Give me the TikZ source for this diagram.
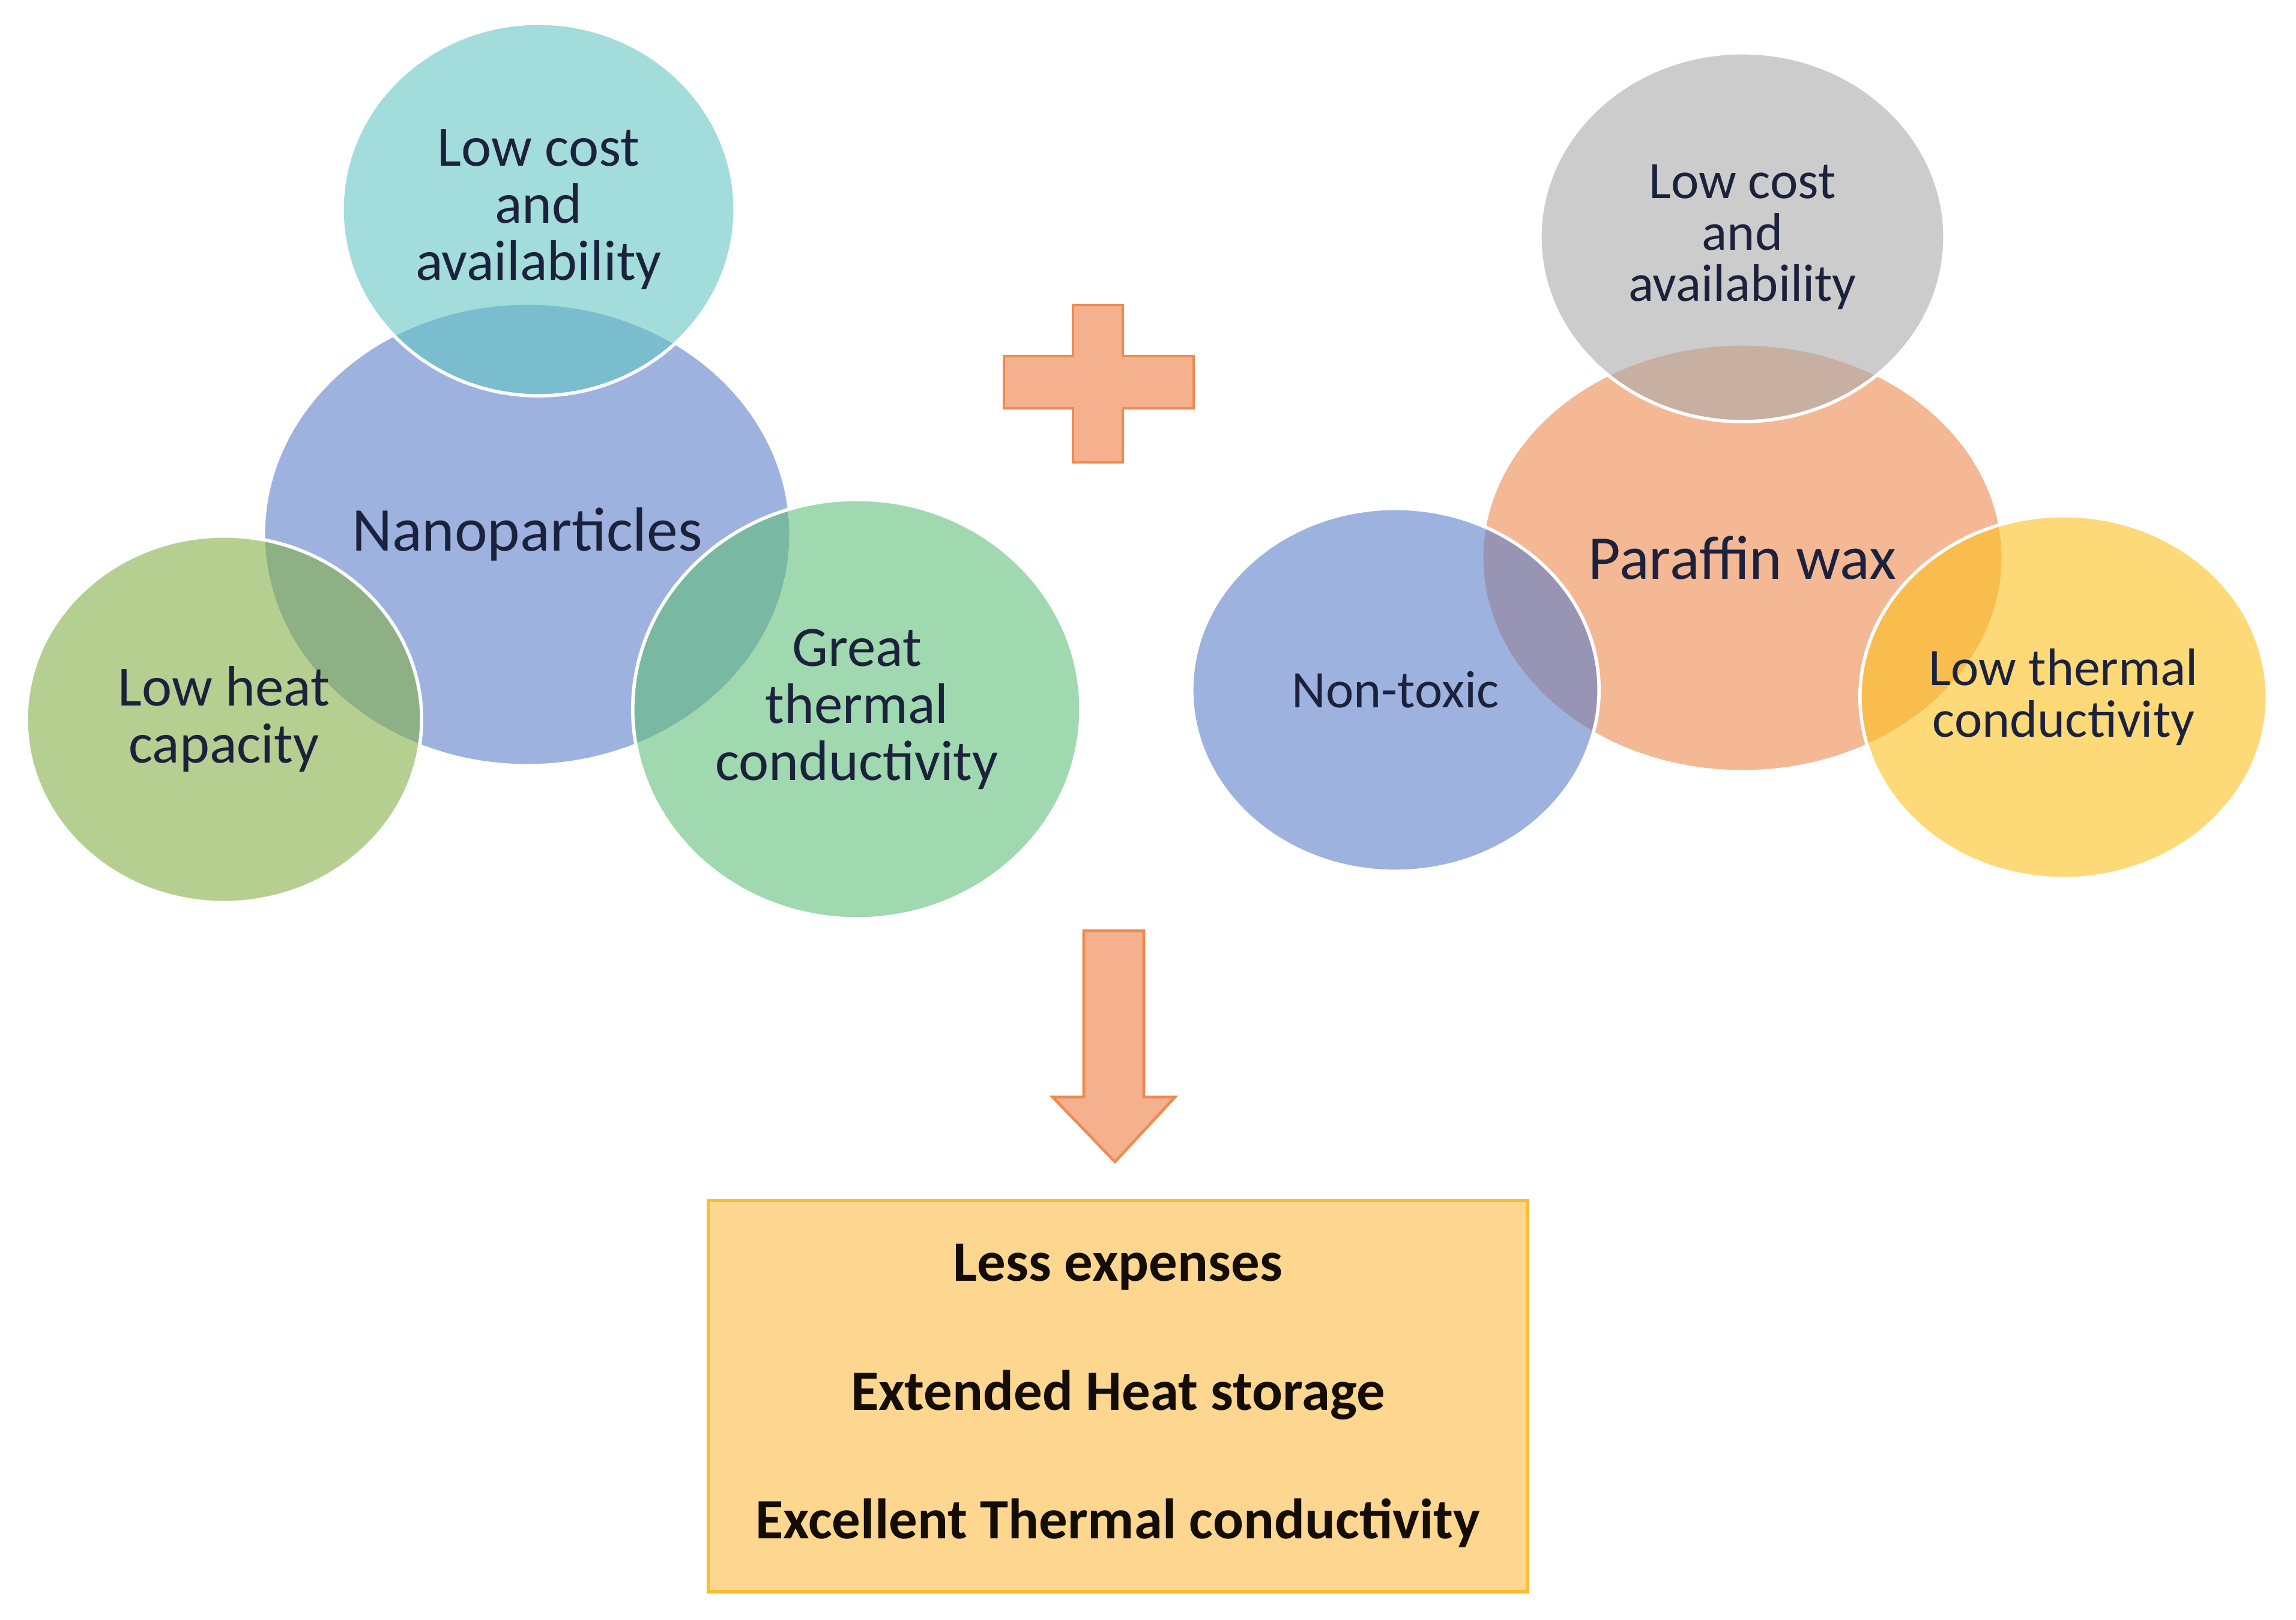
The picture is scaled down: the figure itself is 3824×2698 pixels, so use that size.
\documentclass[tikz,border=0pt]{standalone}
\usepackage{fontspec}
\setmainfont{Carlito}
\usetikzlibrary{shapes.geometric}
\definecolor{cBlue}{RGB}{92,127,202}
\definecolor{cTeal}{RGB}{100,197,195}
\definecolor{cGreenA}{RGB}{132,175,73}
\definecolor{cGreenB}{RGB}{97,190,123}
\definecolor{cGray}{RGB}{170,170,170}
\definecolor{cOrange}{RGB}{238,138,77}
\definecolor{cYellow}{RGB}{252,193,30}
\definecolor{txtNavy}{RGB}{28,33,60}
\definecolor{arrFill}{RGB}{245,176,142}
\definecolor{arrLine}{RGB}{239,138,80}
\definecolor{boxFill}{RGB}{253,214,144}
\definecolor{boxLine}{RGB}{246,190,50}
\begin{document}
\begin{tikzpicture}[x=0.01cm,y=-0.01cm,
  bub/.style={ellipse, draw=white, line width=1.6pt, fill opacity=0.6, text opacity=1,
    text=txtNavy, align=center, inner sep=0pt},
  lfont/.style={font=\fontsize{27}{27}\selectfont},
  rfont/.style={font=\fontsize{25}{24.3}\selectfont},
  cfont/.style={font=\fontsize{29.5}{30}\selectfont},
  blockshape/.style={fill=arrFill, draw=arrLine, line width=1.3pt, line join=miter},
  result/.style={rectangle, fill=boxFill, draw=boxLine, line width=1.6pt,
    minimum width=13.64cm, minimum height=6.51cm, align=center,
    text=black!90!brown, font=\bfseries\fontsize{27}{61}\selectfont}]
\useasboundingbox (0,0) rectangle (3824,2698);
\fill[white] (0,0) rectangle (3824,2698);

% left group
\node[bub, cfont, fill=cBlue, minimum width=8.78cm, minimum height=7.70cm] (nano) at (878,890) {Nanoparticles};
\node[bub, lfont, fill=cTeal, minimum width=6.54cm, minimum height=6.20cm] (lcA) at (897,349) {Low cost\\and\\availability};
\node[bub, lfont, fill=cGreenA, minimum width=6.58cm, minimum height=6.10cm] (lhc) at (373,1198) {Low heat\\capacity};
\node[bub, lfont, fill=cGreenB, minimum width=7.46cm, minimum height=6.98cm] (gtc) at (1427,1181) {Great\\thermal\\conductivity};

% right group
\node[bub, cfont, fill=cOrange, minimum width=8.68cm, minimum height=7.12cm] (pw) at (2902,929) {Paraffin wax};
\node[bub, rfont, fill=cGray, minimum width=6.74cm, minimum height=6.14cm] (lcB) at (2902,395) {Low cost\\and\\availability};
\node[bub, rfont, fill=cBlue, minimum width=6.78cm, minimum height=6.04cm] (nt) at (2324,1149) {Non-toxic};
\node[bub, rfont, fill=cYellow, minimum width=6.78cm, minimum height=6.04cm] (ltc) at (3437,1161) {Low thermal\\conductivity};

% plus sign
\draw[blockshape] (1787,508) -- (1870,508) -- (1870,593) -- (1988,593) -- (1988,680)
  -- (1870,680) -- (1870,770) -- (1787,770) -- (1787,680) -- (1672,680) -- (1672,593)
  -- (1787,593) -- cycle;

% result box
\node[result] (res) at (1862,2325) {Less expenses\\Extended Heat storage\\Excellent Thermal conductivity};

% down arrow
\draw[blockshape] (1805,1550) -- (1905,1550) -- (1905,1827) -- (1957,1827) -- (1857,1935)
  -- (1753,1827) -- (1805,1827) -- cycle;
\end{tikzpicture}
\end{document}
